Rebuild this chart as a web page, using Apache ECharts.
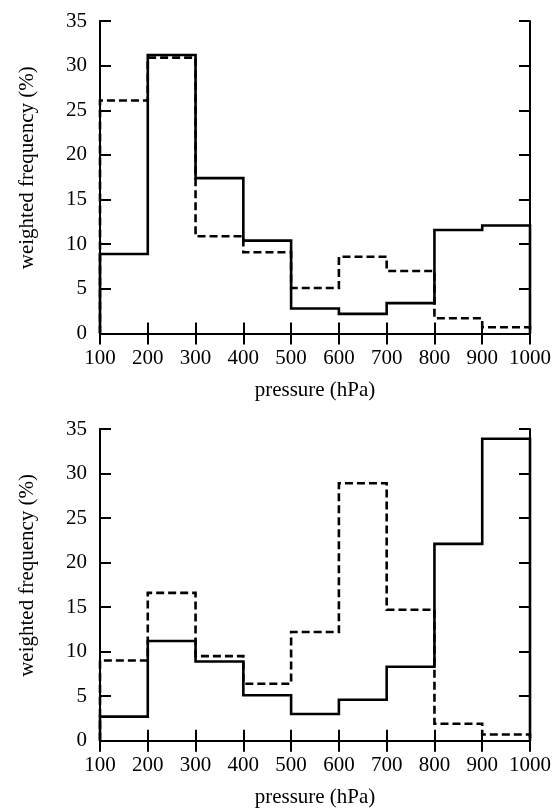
<!DOCTYPE html>
<html>
<head>
<meta charset="utf-8">
<script src="https://cdn.jsdelivr.net/npm/echarts@6/dist/echarts.min.js"></script>
<style>
html,body{margin:0;padding:0;background:#fff;}
#c{width:558px;height:809px;}
</style>
</head>
<body>
<div id="c"></div>
<script>
// bin edges (pressure, hPa)
var binEdges = [100, 200, 300, 400, 500, 600, 700, 800, 900, 1000];
// top panel
var topSolid  = [8.9, 31.2, 17.4, 10.4, 2.8, 2.2, 3.4, 11.6, 12.1];
var topDashed = [26.1, 30.9, 10.9, 9.1, 5.1, 8.6, 7.0, 1.7, 0.7];
// bottom panel
var botSolid  = [2.7, 11.2, 8.9, 5.1, 3.0, 4.6, 8.3, 22.1, 33.9];
var botDashed = [9.0, 16.6, 9.5, 6.4, 12.2, 28.9, 14.7, 1.9, 0.7];
// axis ticks
var xTicks = [100, 200, 300, 400, 500, 600, 700, 800, 900, 1000];
var yTicks = [0, 5, 10, 15, 20, 25, 30, 35];

function stepPoints(edges, vals) {
  var pts = [[edges[0], 0]];
  for (var i = 0; i < vals.length; i++) {
    pts.push([edges[i], vals[i]]);
    pts.push([edges[i + 1], vals[i]]);
  }
  pts.push([edges[edges.length - 1], 0]);
  return pts;
}

var font = 'Liberation Serif';
var FS = 21;
var lblStyle = {fontFamily: font, fontSize: FS, color: '#000'};
var tickStyle = {inside: true, length: 11, lineStyle: {color: '#000', width: 2}};
var lineStyleAx = {lineStyle: {color: '#000', width: 2}};

function xAxes(gi) {
  var base = {type: 'value', gridIndex: gi, min: xTicks[0], max: xTicks[xTicks.length - 1], interval: 100, splitLine: {show: false}};
  return [
    Object.assign({}, base, {
      position: 'bottom',
      name: 'pressure (hPa)', nameLocation: 'middle', nameGap: 46,
      nameTextStyle: {fontFamily: font, fontSize: FS, color: '#000'},
      axisLine: lineStyleAx, axisTick: {show: false},
      axisLabel: Object.assign({margin: 14, formatter: function (v) { return String(v); }}, lblStyle)
    }),
    Object.assign({}, base, {position: 'top', axisLine: lineStyleAx, axisTick: tickStyle, axisLabel: {show: false}}),
    Object.assign({}, base, {position: 'bottom', axisLine: lineStyleAx, axisTick: tickStyle, axisLabel: {show: false}})
  ];
}
function yAxes(gi) {
  var base = {type: 'value', gridIndex: gi, min: yTicks[0], max: yTicks[yTicks.length - 1], interval: 5, splitLine: {show: false}};
  return [
    Object.assign({}, base, {
      position: 'left',
      name: 'weighted frequency (%)', nameLocation: 'middle', nameGap: 62,
      nameTextStyle: {fontFamily: font, fontSize: FS, color: '#000', padding: [0, 0, 0, 19]},
      axisLine: lineStyleAx, axisTick: {show: false},
      axisLabel: Object.assign({margin: 13}, lblStyle)
    }),
    Object.assign({}, base, {position: 'right', axisLine: lineStyleAx, axisTick: tickStyle, axisLabel: {show: false}}),
    Object.assign({}, base, {position: 'left', axisLine: lineStyleAx, axisTick: tickStyle, axisLabel: {show: false}})
  ];
}

function lineSeries(xi, yi, data, dashed) {
  return {
    type: 'line', xAxisIndex: xi, yAxisIndex: yi, data: data,
    symbol: 'none', animation: false, z: dashed ? 3 : 4,
    lineStyle: {color: '#000', width: 2.6, type: dashed ? [8, 4] : 'solid', cap: 'butt', join: 'miter'}
  };
}

var chart = echarts.init(document.getElementById('c'), null, {renderer: 'canvas'});
chart.setOption({
  backgroundColor: '#fff',
  animation: false,
  grid: [
    {left: 100, top: 21, width: 430, height: 312.5},
    {left: 100, top: 429, width: 430, height: 311.7}
  ],
  xAxis: xAxes(0).concat(xAxes(1)),
  yAxis: yAxes(0).concat(yAxes(1)),
  series: [
    lineSeries(0, 0, stepPoints(binEdges, topDashed), true),
    lineSeries(0, 0, stepPoints(binEdges, topSolid), false),
    lineSeries(3, 3, stepPoints(binEdges, botDashed), true),
    lineSeries(3, 3, stepPoints(binEdges, botSolid), false)
  ]
});
</script>
</body>
</html>
